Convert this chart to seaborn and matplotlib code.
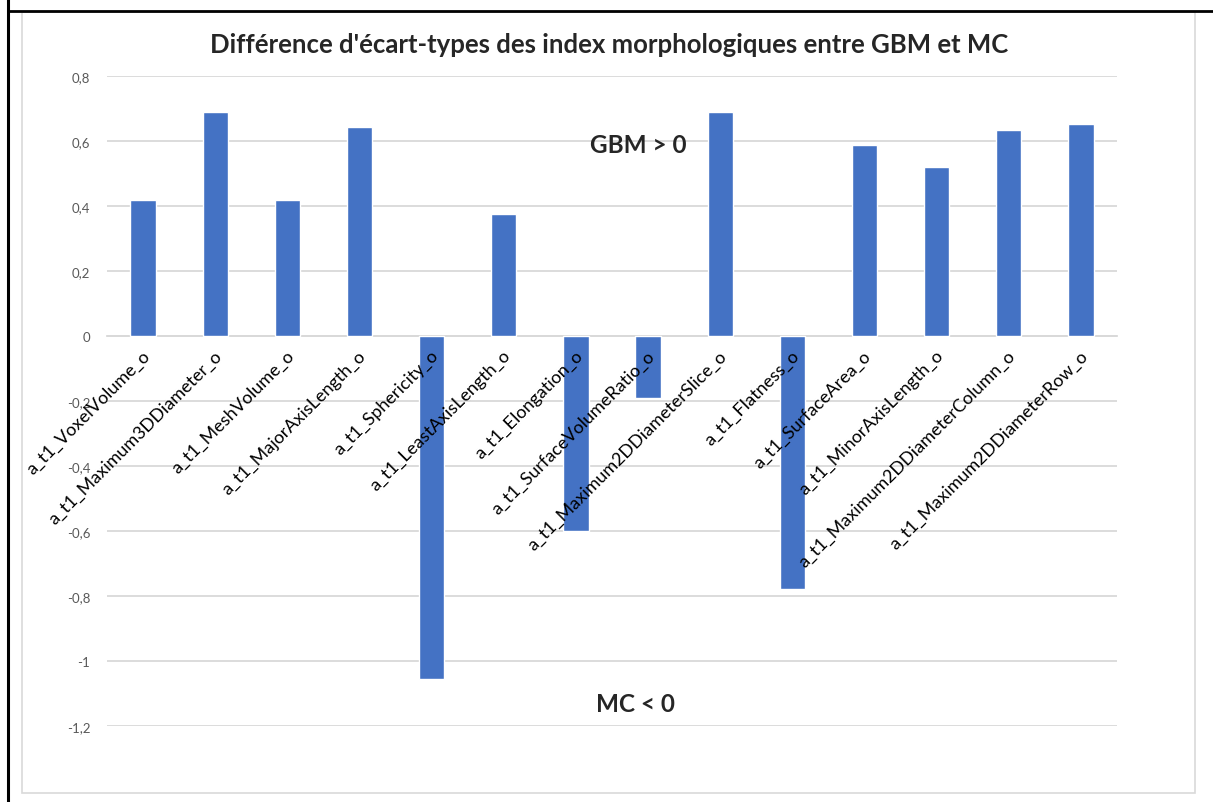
import matplotlib
matplotlib.use("Agg")
import matplotlib.pyplot as plt
import matplotlib.transforms as mtransforms
from matplotlib.lines import Line2D
from matplotlib.patches import Rectangle
import seaborn as sns

categories = [
    "a_t1_VoxelVolume_o",
    "a_t1_Maximum3DDiameter_o",
    "a_t1_MeshVolume_o",
    "a_t1_MajorAxisLength_o",
    "a_t1_Sphericity_o",
    "a_t1_LeastAxisLength_o",
    "a_t1_Elongation_o",
    "a_t1_SurfaceVolumeRatio_o",
    "a_t1_Maximum2DDiameterSlice_o",
    "a_t1_Flatness_o",
    "a_t1_SurfaceArea_o",
    "a_t1_MinorAxisLength_o",
    "a_t1_Maximum2DDiameterColumn_o",
    "a_t1_Maximum2DDiameterRow_o",
]
values = [0.42, 0.688, 0.42, 0.642, -1.056, 0.375, -0.601, -0.19,
          0.69, -0.778, 0.589, 0.519, 0.634, 0.653]
y_ticks = [0.8, 0.6, 0.4, 0.2, 0, -0.2, -0.4, -0.6, -0.8, -1, -1.2]
title = "Différence d'écart-types des index morphologiques entre GBM et MC"

sns.set_style("white")
plt.rcParams["font.family"] = ["Lato", "DejaVu Sans"]

W, H = 1213, 803
fig = plt.figure(figsize=(W / 100, H / 100), dpi=100)
ax = fig.add_axes([107 / W, 1 - 727 / H, 1010 / W, 650 / H])

# outer cell borders and chart frame
fig.add_artist(Line2D([8 / W, 8 / W], [0, 1], color="black", lw=2.2,
                      transform=fig.transFigure))
fig.add_artist(Line2D([8 / W, 1], [1 - 12 / H, 1 - 12 / H], color="black",
                      lw=2, transform=fig.transFigure))
fig.add_artist(Rectangle((22 / W, 1 - 794 / H), 1173 / W, 781 / H,
                         fill=False, edgecolor="#d9d9d9", lw=1.2,
                         transform=fig.transFigure))

# gridlines behind the bars
for t in y_ticks:
    ax.axhline(t, color="#d9d9d9", lw=1.3, zorder=0)

sns.barplot(x=categories, y=values, color="#4472C4", saturation=1,
            width=0.35, ax=ax, zorder=2)

ax.set_ylim(-1.2, 0.8)
ax.set_xlim(-0.5, len(categories) - 0.5)
ax.set_yticks(y_ticks)
ax.set_yticklabels([f"{v:g}".replace(".", ",") for v in y_ticks])
ax.grid(False)
ax.set_axisbelow(False)

for side in ["top", "right", "left"]:
    ax.spines[side].set_visible(False)
ax.spines["bottom"].set_position(("data", 0))
ax.spines["bottom"].set_color("#d9d9d9")
ax.spines["bottom"].set_linewidth(1.3)
ax.spines["bottom"].set_zorder(1)
ax.xaxis.set_zorder(5)

ax.tick_params(axis="y", length=0, pad=12, labelsize=9.5,
               labelcolor="#595959")
ax.tick_params(axis="x", length=0, pad=12)
ax.set_xlabel("")
ax.set_ylabel("")

offset = mtransforms.ScaledTranslation(4 / 100, 0, fig.dpi_scale_trans)
for lab in ax.get_xticklabels():
    lab.set_rotation(45)
    lab.set_ha("right")
    lab.set_va("center")
    lab.set_rotation_mode("anchor")
    lab.set_fontsize(13)
    lab.set_color("black")
    lab.set_transform(lab.get_transform() + offset)

fig.text(609 / W, 1 - 45 / H, title, ha="center", va="center",
         fontsize=18.5, fontweight="bold")
ax.text(6.86, 0.59, "GBM > 0", ha="center", va="center", fontsize=17.5,
        fontweight="bold")
ax.text(6.82, -1.132, "MC < 0", ha="center", va="center", fontsize=17.5,
        fontweight="bold")

fig.savefig("out.png", dpi=100)
